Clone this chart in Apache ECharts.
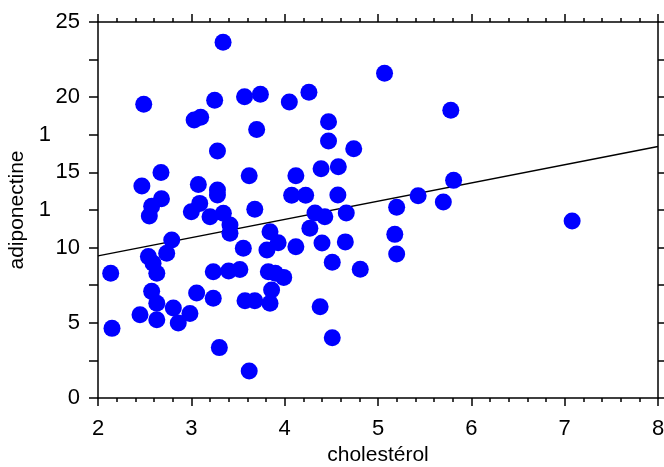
<!DOCTYPE html>
<html>
<head>
<meta charset="utf-8">
<script src="https://cdn.jsdelivr.net/npm/echarts@6/dist/echarts.min.js"></script>
<style>html,body{margin:0;padding:0;background:#fff}#c{width:664px;height:467px}</style>
</head>
<body>
<div id="c"></div>
<script>
const cholesterol = [3.34,2.49,3.25,3.57,3.74,4.05,4.26,5.07,3.03,3.10,3.70,4.47,4.47,4.74,3.28,2.675,2.47,3.075,3.62,4.12,4.39,4.575,3.28,3.28,4.075,4.225,4.57,2.68,2.575,2.55,3.09,3.0,3.2,3.343,3.414,3.414,3.68,4.325,4.43,4.66,4.27,3.843,3.93,3.81,4.12,4.40,4.65,3.557,4.51,4.81,2.79,2.736,2.54,2.59,2.63,2.136,3.235,3.40,3.52,3.825,3.9,3.99,3.86,3.843,3.235,3.575,3.68,3.057,2.575,2.63,2.45,2.63,2.807,2.86,2.985,4.38,2.15,3.30,3.62,4.51,5.78,5.81,5.43,5.70,5.20,5.18,5.20,7.08];
const adiponectine = [23.65,19.53,19.79,20.03,20.19,19.68,20.33,21.6,18.48,18.66,17.86,18.37,17.09,16.58,16.42,15.0,14.1,14.2,14.78,14.78,15.25,15.38,13.83,13.5,13.48,13.48,13.5,13.25,12.75,12.1,12.94,12.39,12.05,12.28,11.5,10.95,12.55,12.3,12.05,12.3,11.28,11.06,10.33,9.84,10.06,10.3,10.38,9.95,9.02,8.56,10.5,9.62,9.4,8.96,8.29,8.29,8.4,8.45,8.55,8.4,8.29,8.02,7.18,6.3,6.63,6.47,6.47,6.98,7.09,6.3,5.54,5.2,5.98,4.98,5.62,6.07,4.63,3.35,1.8,4.01,19.13,14.47,13.45,13.03,12.68,10.88,9.57,11.77];
const regressionX = [2, 8];
const regressionY = [9.45, 16.72];
const xTickLabels = ['2','3','4','5','6','7','8'];
const yTickLabels = ['0','','5','','10','1','15','1','20','','25'];

const points = cholesterol.map((x,i)=>[x, adiponectine[i]]);
const lineData = regressionX.map((x,i)=>[x, regressionY[i]]);

const font = 'Liberation Sans, Arial, sans-serif';
const axisLine = {show:true, onZero:false, lineStyle:{color:'#000', width:1.5}};
const tickStyle = {color:'#000', width:1.5};

const chart = echarts.init(document.getElementById('c'), null, {renderer:'canvas'});
chart.setOption({
  animation:false,
  backgroundColor:'#fff',
  grid:{left:98, right:6, top:22, bottom:69, containLabel:false, outerBoundsMode:'none'},
  xAxis:[{
    type:'value', min:2, max:8, interval:1, position:'bottom',
    name:'cholestérol', nameLocation:'middle', nameGap:42,
    nameTextStyle:{color:'#000', fontSize:21, fontFamily:font},
    axisLine:axisLine,
    axisTick:{show:true, inside:false, length:8, lineStyle:tickStyle},
    minorTick:{show:true, splitNumber:5, length:4, lineStyle:tickStyle},
    splitLine:{show:false},
    axisLabel:{color:'#000', fontSize:22, fontFamily:font, margin:20,
      formatter:(v)=>xTickLabels[Math.round(v-2)] ?? ''}
  },{
    type:'value', min:2, max:8, interval:1, position:'top',
    axisLine:axisLine,
    axisTick:{show:true, inside:false, length:8, lineStyle:tickStyle},
    minorTick:{show:true, splitNumber:5, length:4, lineStyle:tickStyle},
    splitLine:{show:false},
    axisLabel:{show:false}
  }],
  yAxis:[{
    type:'value', min:0, max:25, interval:2.5, position:'left',
    name:'adiponectine', nameLocation:'middle', nameGap:62, nameRotate:90,
    nameTextStyle:{color:'#000', fontSize:21, fontFamily:font},
    axisLine:axisLine,
    axisTick:{show:true, inside:false, length:9, lineStyle:tickStyle},
    splitLine:{show:false},
    axisLabel:{color:'#000', fontSize:22, fontFamily:font, margin:18,
      formatter:(v)=>{
        const t = yTickLabels[Math.round(v/2.5)] ?? '';
        if (t === '1') return '{s|1}';
        return t;
      },
      rich:{s:{color:'#000', fontSize:22, fontFamily:font, padding:[0,29,0,0]}}
    }
  },{
    type:'value', min:0, max:25, interval:2.5, position:'right',
    axisLine:axisLine,
    axisTick:{show:true, inside:false, length:8, lineStyle:tickStyle},
    splitLine:{show:false},
    axisLabel:{show:false}
  }],
  series:[{
    type:'line', data:lineData, xAxisIndex:0, yAxisIndex:0,
    showSymbol:false, symbol:'none', z:1,
    lineStyle:{color:'#000', width:1.5}
  },{
    type:'scatter', data:points, xAxisIndex:0, yAxisIndex:0,
    symbol:'circle', symbolSize:17, z:3,
    itemStyle:{color:'#0000ff', opacity:1}
  }]
});
</script>
</body>
</html>
